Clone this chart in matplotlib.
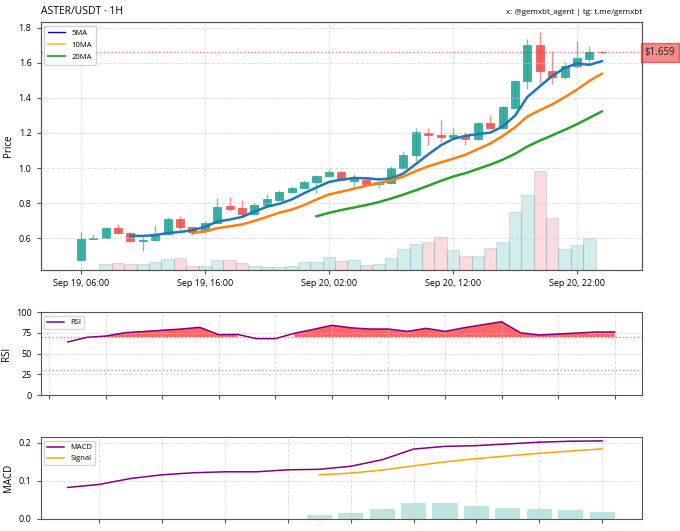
import numpy as np
import pandas as pd
import matplotlib
matplotlib.use('Agg')
import matplotlib.pyplot as plt
import matplotlib.ticker as mticker
from matplotlib.lines import Line2D

plt.rcParams['font.family'] = ['Open Sans', 'DejaVu Sans']

# hourly candles, Sep 19 06:00 -> Sep 21 00:00
times = pd.date_range('2025-09-19 06:00', periods=43, freq='h')
opens = [0.478, 0.596, 0.602, 0.656, 0.630, 0.585, 0.589, 0.627, 0.711, 0.663,
         0.642, 0.688, 0.784, 0.771, 0.738, 0.788, 0.818, 0.864, 0.889, 0.918,
         0.952, 0.978, 0.924, 0.933, 0.912, 0.914, 1.000, 1.077, 1.202, 1.186,
         1.176, 1.182, 1.167, 1.255, 1.226, 1.345, 1.497, 1.703, 1.556, 1.518,
         1.579, 1.620, 1.663]
highs = [0.636, 0.627, 0.665, 0.682, 0.636, 0.607, 0.675, 0.722, 0.726, 0.667,
         0.699, 0.828, 0.837, 0.818, 0.800, 0.853, 0.876, 0.899, 0.933, 0.955,
         0.997, 0.981, 0.968, 0.940, 0.930, 1.010, 1.096, 1.230, 1.230, 1.274,
         1.226, 1.205, 1.255, 1.300, 1.355, 1.500, 1.736, 1.776, 1.668, 1.607,
         1.723, 1.696, 1.668]
lows = [0.476, 0.594, 0.600, 0.623, 0.581, 0.527, 0.585, 0.623, 0.646, 0.617,
        0.630, 0.685, 0.755, 0.735, 0.735, 0.785, 0.810, 0.857, 0.885, 0.857,
        0.948, 0.930, 0.886, 0.905, 0.886, 0.910, 0.995, 1.038, 1.134, 1.148,
        1.163, 1.134, 1.159, 1.220, 1.220, 1.340, 1.448, 1.485, 1.482, 1.510,
        1.570, 1.598, 1.655]
closes = [0.598, 0.600, 0.656, 0.630, 0.587, 0.592, 0.627, 0.711, 0.663, 0.634,
          0.688, 0.780, 0.768, 0.738, 0.788, 0.822, 0.866, 0.889, 0.918, 0.952,
          0.978, 0.933, 0.937, 0.910, 0.920, 1.000, 1.077, 1.205, 1.186, 1.175,
          1.186, 1.167, 1.255, 1.226, 1.349, 1.498, 1.701, 1.556, 1.518, 1.581,
          1.627, 1.661, 1.659]
volumes = [0, 0, 0.57, 0.73, 0.57, 0.57, 0.80, 1.10, 1.20, 0.43,
           0.37, 0.97, 0.97, 0.67, 0.37, 0.33, 0.27, 0.37, 0.80, 0.80,
           1.33, 0.93, 1.00, 0.47, 0.60, 1.17, 2.07, 2.60, 2.83, 3.30,
           2.00, 1.43, 1.43, 2.23, 2.80, 5.80, 7.47, 9.90, 5.17, 2.10,
           2.47, 3.20, 0]

# RSI(14) from candle 13 on
rsi_vals = [63.9, 69.5, 71.0, 75.0, 76.5, 78.0, 79.5, 81.5, 72.7, 73.0,
            67.9, 67.9, 74.3, 79.0, 84.0, 81.0, 79.5, 79.5, 76.7, 80.3,
            76.7, 81.0, 84.7, 88.3, 75.0, 72.3, 73.5, 74.7, 75.9, 75.9]
# MACD from candle 25 on, signal/histogram from candle 33 on
macd_vals = [0.0826, 0.0904, 0.106, 0.1157, 0.121, 0.1235, 0.1235, 0.1287, 0.130,
             0.138, 0.155, 0.183, 0.190, 0.192, 0.1965, 0.201, 0.2035, 0.2043]
signal_vals = [0.1157, 0.120, 0.128, 0.139, 0.1496, 0.158, 0.165, 0.172, 0.178, 0.1835]
hist_vals = [0.0113, 0.0165, 0.026, 0.0426, 0.041, 0.033, 0.0287, 0.026, 0.0235, 0.019]

up_col = '#26a69a'
dn_col = '#ef5350'

n = len(closes)
idx = np.arange(n)
o = np.array(opens); c = np.array(closes)
colors = [up_col if c[i] >= o[i] else dn_col for i in range(n)]
close_s = pd.Series(closes)
ma5 = close_s.rolling(5).mean()
ma10 = close_s.rolling(10).mean()
ma20 = close_s.rolling(20).mean()

fig = plt.figure(figsize=(6.8, 5.31), dpi=100)
ax = fig.add_axes([0.0596, 0.4915, 0.8846, 0.4672])
ax_rsi = fig.add_axes([0.0596, 0.2561, 0.8846, 0.1563])
ax_macd = fig.add_axes([0.0596, 0.0226, 0.8846, 0.1544])

grid_kw = dict(linestyle='--', color='#cccccc', alpha=0.6, linewidth=0.7)

# volume on twin axis, behind candles
axv = ax.twinx()
axv.bar(idx, volumes, width=1.0, color=colors, alpha=0.2, edgecolor='#4682b4', linewidth=0.8)
axv.set_ylim(0, max(volumes) * 2.5)
axv.set_yticks([])
ax.set_zorder(axv.get_zorder() + 1)
ax.patch.set_visible(False)

# candles
ax.vlines(idx, lows, highs, colors=colors, linewidth=1.0, alpha=0.65)
ax.bar(idx, c - o, bottom=o, width=0.65, color=colors, edgecolor=colors, linewidth=0.6, alpha=0.9)

ax.plot(idx, ma5, color='#1f77b4', linewidth=1.8)
ax.plot(idx, ma10, color='#ff7f0e', linewidth=1.8)
ax.plot(idx, ma20, color='#2ca02c', linewidth=1.8)

last = closes[-1]
ax.axhline(last, color='red', linestyle=':', linewidth=1.0, alpha=0.5)
ax.text(1.004, last, f'${last:.3f}', transform=ax.get_yaxis_transform(),
        ha='left', va='center', fontsize=7, color='#222222',
        bbox=dict(boxstyle='square,pad=0.4', fc='#f03c3c', ec='#d02020', alpha=0.6))

handles = [Line2D([], [], color='blue', linewidth=1.0),
           Line2D([], [], color='orange', alpha=0.6, linewidth=1.5),
           Line2D([], [], color='green', alpha=0.7, linewidth=1.5)]
ax.legend(handles, ['5MA', '10MA', '20MA'], loc='upper left', fontsize=5.5,
          framealpha=0.9, handlelength=2.2, borderpad=0.5, labelspacing=0.6)

ax.set_xlim(-3.24, 45.24)
ax.set_ylim(0.419, 1.833)
tick_pos = idx[::10]
ax.set_xticks(tick_pos)
ax.set_xticklabels([times[i].strftime('%b %d, %H:%M') for i in tick_pos])
ax.set_ylabel('Price', fontsize=7, labelpad=3)
ax.grid(True, **grid_kw)
ax.set_title('ASTER/USDT · 1H', loc='left', fontsize=7.5, pad=6)
ax.set_title('x: @gemxbt_agent | tg: t.me/gemxbt', loc='right', fontsize=5.8, pad=6)

# RSI
rx = idx[n - len(rsi_vals):]
r = np.array(rsi_vals)
ax_rsi.plot(rx, r, color='purple', linewidth=1.1, label='RSI')
ax_rsi.fill_between(rx, r, 70, where=r >= 70, color='red', alpha=0.6, linewidth=0)
ax_rsi.axhline(70, color='red', linestyle=':', linewidth=1.0, alpha=0.5)
ax_rsi.axhline(30, color='green', linestyle=':', linewidth=1.0, alpha=0.5)
ax_rsi.set_ylim(0, 100)
ax_rsi.set_yticks([0, 25, 50, 75, 100])
ax_rsi.xaxis.set_major_locator(mticker.MultipleLocator(3))
ax_rsi.set_xticklabels([])
ax_rsi.set_ylabel('RSI', fontsize=7, labelpad=3)
ax_rsi.grid(True, **grid_kw)
ax_rsi.legend(loc='upper left', fontsize=5.5, handlelength=2.2)

# MACD
mx = idx[n - len(macd_vals):]
sx = idx[n - len(signal_vals):]
ax_macd.bar(sx, hist_vals, width=0.8, color=up_col, alpha=0.3)
ax_macd.plot(mx, macd_vals, color='purple', linewidth=1.1, label='MACD')
ax_macd.plot(sx, signal_vals, color='orange', linewidth=1.1, label='Signal')
ax_macd.xaxis.set_major_locator(mticker.MultipleLocator(2))
ax_macd.set_xticklabels([])
ax_macd.set_yticks([0.0, 0.1, 0.2])
ax_macd.set_ylabel('MACD', fontsize=7, labelpad=3)
ax_macd.grid(True, **grid_kw)
ax_macd.legend(loc='upper left', fontsize=5.5, handlelength=2.2)

for a in (ax, ax_rsi, ax_macd, axv):
    for s in a.spines.values():
        s.set_color('#555555')
for a in (ax, ax_rsi, ax_macd):
    a.tick_params(labelsize=6.5, length=3, color='#555555')

fig.savefig('out.png', dpi=100)
